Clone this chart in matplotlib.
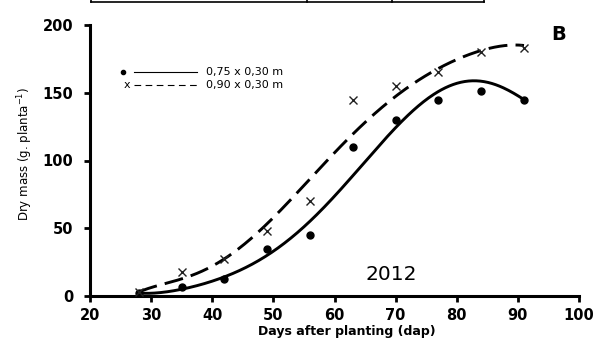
import numpy as np
import matplotlib
matplotlib.use("Agg")
import matplotlib.pyplot as plt
from matplotlib.lines import Line2D

plt.rcParams['font.family'] = ['DejaVu Sans']
plt.rcParams['mathtext.fontset'] = 'dejavusans'

# observed data
days = [28, 35, 42, 49, 56, 63, 70, 77, 84, 91]
mass_075 = [2, 7, 12.5, 35, 45, 110, 130, 145, 151, 145]
mass_090 = [3, 18, 27, 48, 70, 145, 155, 165, 180, 183]

# fitted curves
fit075_x = [28, 35, 42, 45.6, 49.4, 56, 60.8, 65.7, 71.7, 77, 82.5, 86.4, 91]
fit075_y = [2, 6, 12, 21, 34, 54, 78, 102, 132, 152, 158, 156, 145]
fit090_x = [28, 34.7, 41.7, 45.6, 48.9, 54.3, 60.8, 64, 67.8, 75, 82.5, 90.2, 91]
fit090_y = [3, 12, 27, 40, 52, 78, 111, 123, 139, 163, 179, 185, 185]

labels = ['0,75 x 0,30 m', '0,90 x 0,30 m']
xticks = [20, 30, 40, 50, 60, 70, 80, 90, 100]
yticks = [0, 50, 100, 150, 200]


def smooth(xs, ys, deg=6):
    xs = np.asarray(xs, float)
    ys = np.asarray(ys, float)
    c = np.polyfit(xs, ys, deg)
    xx = np.linspace(xs.min(), xs.max(), 300)
    return xx, np.polyval(c, xx)


fig = plt.figure(figsize=(5.95, 3.41), dpi=100)
ax = fig.add_axes([90/595, 45/341, 489/595, 271/341])

xs, ys = smooth(fit075_x, fit075_y)
ax.plot(xs, ys, color='black', lw=2.1, solid_capstyle='round')
xs, ys = smooth(fit090_x, fit090_y)
ax.plot(xs, ys, color='black', lw=2.1, dashes=(6.5, 2.8))

ax.plot(days, mass_075, 'o', color='black', ms=5, zorder=3)
ax.plot(days, mass_090, 'x', color='#222222', ms=6, mew=1.0, zorder=3)

ax.set_xlim(20, 100)
ax.set_ylim(0, 200)
ax.set_xticks(xticks)
ax.set_yticks(yticks)
for s in ['top', 'right']:
    ax.spines[s].set_visible(False)
for s in ['left', 'bottom']:
    ax.spines[s].set_linewidth(2.2)
ax.tick_params(direction='out', length=4, width=2)
ax.tick_params(axis='y', pad=8)
ax.tick_params(axis='x', pad=5)
for lab in ax.get_xticklabels() + ax.get_yticklabels():
    lab.set_fontweight('bold')
    lab.set_fontsize(10.5)

ax.set_xlabel('Days after planting (dap)', fontsize=9, fontweight='bold', va='center')
ax.xaxis.set_label_coords(0.526, -0.13)
ax.set_ylabel(r'Dry mass (g. planta$^{-1}$)', fontsize=8.5, va='center')
ax.yaxis.set_label_coords(-0.133, 0.524)

# custom legend (marker left of line)
tA = ax.transAxes
rows = [(0.827, 'o', '-'), (0.779, 'x', '--')]
for (yy, mk, ls), lab in zip(rows, labels):
    if mk == 'o':
        ax.plot([0.068], [yy], 'o', color='black', ms=3, transform=tA, clip_on=False)
    else:
        ax.text(0.075, yy, 'x', transform=tA, fontsize=8, ha='center', va='center')
    if ls == '-':
        ax.plot([0.09, 0.219], [yy, yy], color='black', lw=0.8, transform=tA)
    else:
        ax.plot([0.09, 0.219], [yy, yy], color='black', lw=0.8, dashes=(6, 4), transform=tA)
    ax.text(0.237, yy, lab, transform=tA, fontsize=8, va='center', ha='left')

ax.text(69.3, 15.5, '2012', fontsize=14.5, ha='center', va='center')
ax.text(96.7, 193, 'B', fontsize=14, fontweight='bold', ha='center', va='center')

# cropped table border at top
fig.add_artist(Line2D([91/595, 484/595], [1 - 1.5/341] * 2, color='black', lw=1.2))
for xp in [91, 307, 392, 484]:
    fig.add_artist(Line2D([xp/595, xp/595], [1, 1 - 2/341], color='black', lw=1.2))

fig.savefig('out.png', dpi=100)
